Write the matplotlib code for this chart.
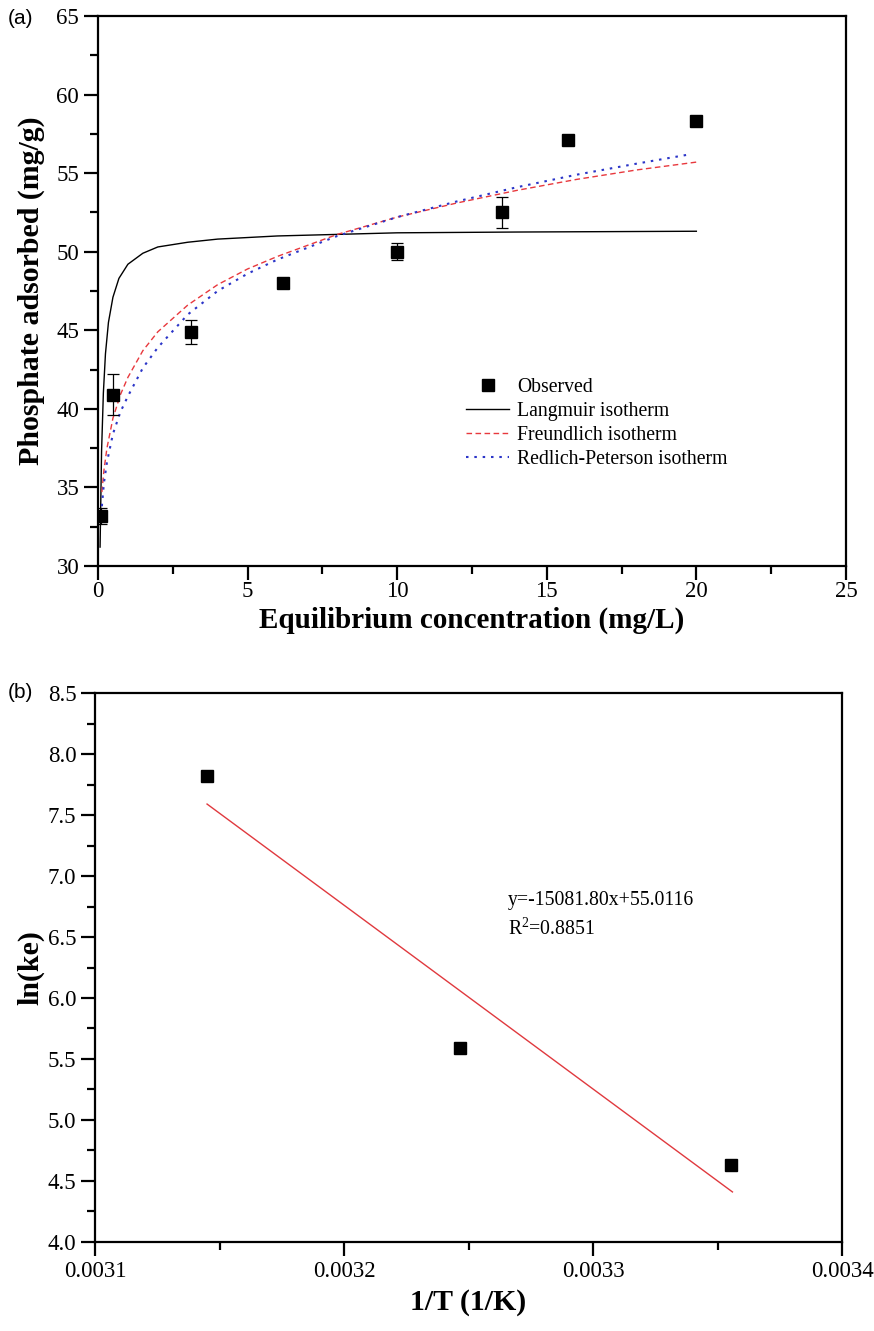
import matplotlib
matplotlib.use("Agg")
import matplotlib.pyplot as plt
from matplotlib.ticker import MultipleLocator, FormatStrFormatter
from matplotlib.lines import Line2D

# ---------------- data: panel (a) ----------------
obs_x = [0.1, 0.5, 3.1, 6.2, 10.0, 13.5, 15.7, 20.0]
obs_y = [33.2, 40.9, 44.9, 48.0, 50.0, 52.5, 57.1, 58.3]
obs_err = [0.5, 1.3, 0.75, 0.2, 0.55, 1.0, 0.2, 0.3]

lang_x = [0.07, 0.12, 0.18, 0.25, 0.35, 0.5, 0.7, 1.0, 1.5, 2.0, 3.0, 4.0, 6.0, 8.0, 10.0, 14.0, 20.0]
lang_y = [31.2, 37.3, 41.0, 43.5, 45.5, 47.1, 48.3, 49.2, 49.9, 50.3, 50.6, 50.8, 51.0, 51.1, 51.2, 51.25, 51.3]

freu_x = [0.13, 0.2, 0.3, 0.5, 0.75, 1.0, 1.5, 2.0, 3.0, 4.0, 5.0, 6.0, 8.0, 10.0, 12.0, 14.0, 16.0, 18.0, 20.0]
freu_y = [34.7, 36.1, 37.5, 39.4, 40.9, 42.0, 43.7, 44.9, 46.6, 47.9, 48.9, 49.7, 51.1, 52.2, 53.1, 53.9, 54.6, 55.2, 55.7]

rp_x = [0.13, 0.2, 0.3, 0.5, 0.75, 1.0, 1.5, 2.0, 3.0, 4.0, 5.0, 6.0, 8.0, 10.0, 12.0, 14.0, 16.0, 18.0, 19.8]
rp_y = [33.8, 35.3, 36.6, 38.4, 39.8, 40.8, 42.6, 43.9, 46.0, 47.5, 48.6, 49.5, 51.0, 52.2, 53.2, 54.1, 54.9, 55.6, 56.2]

legend_labels = ["Observed", "Langmuir isotherm", "Freundlich isotherm", "Redlich-Peterson isotherm"]

# ---------------- data: panel (b) ----------------
invT = [0.0031448, 0.0032466, 0.0033553]
lnke = [7.82, 5.59, 4.63]
fit_x = [0.003145, 0.003356]
fit_y = [7.59, 4.41]
fit_text = "y=-15081.80x+55.0116\nR$^2$=0.8851"

SERIF = ["Liberation Serif", "DejaVu Serif"]
SANS = ["Liberation Sans", "DejaVu Sans"]
plt.rcParams["font.family"] = SERIF
plt.rcParams["mathtext.fontset"] = "custom"
plt.rcParams["mathtext.rm"] = "Liberation Serif"

fig = plt.figure(figsize=(8.74, 13.31), dpi=100)
ax1 = fig.add_axes([0.1121, 0.5748, 0.8558, 0.4132])
ax2 = fig.add_axes([0.1087, 0.0669, 0.8547, 0.4124])

def style(ax):
    for s in ax.spines.values():
        s.set_linewidth(1.6)
    ax.tick_params(which="both", direction="out", top=False, right=False,
                   labelsize=16.5, width=1.6)
    ax.tick_params(which="major", length=10)
    ax.tick_params(which="minor", length=6)

# panel (a)
l_lang, = ax1.plot(lang_x, lang_y, color="black", lw=1.0)
l_freu, = ax1.plot(freu_x, freu_y, color="#e8383d", lw=1.0, ls=(0, (4, 2.5)))
l_rp, = ax1.plot(rp_x, rp_y, color="#2b35c8", lw=1.5, ls=(0, (1.2, 2.8)))
ax1.errorbar(obs_x, obs_y, yerr=obs_err, fmt="s", color="black", ms=9,
             ecolor="black", elinewidth=0.9, capsize=4.5, capthick=0.9, zorder=5)
ax1.set_xlim(0, 25)
ax1.set_ylim(30, 65)
ax1.xaxis.set_major_locator(MultipleLocator(5))
ax1.xaxis.set_minor_locator(MultipleLocator(2.5))
ax1.yaxis.set_major_locator(MultipleLocator(5))
ax1.yaxis.set_minor_locator(MultipleLocator(2.5))
style(ax1)
ax1.tick_params(axis="x", pad=1)
ax1.set_xlabel("Equilibrium concentration (mg/L)", fontsize=21, fontweight="bold", labelpad=3)
ax1.set_ylabel("Phosphate adsorbed (mg/g)", fontsize=21.5, fontweight="bold", labelpad=8)

obs_handle = Line2D([], [], marker="s", ls="none", color="black", ms=9)
ax1.legend([obs_handle, l_lang, l_freu, l_rp], legend_labels, loc="upper left",
           bbox_to_anchor=(0.492, 0.341), frameon=False, fontsize=14.2,
           handlelength=2.2, handletextpad=0.4, labelspacing=0.24, borderpad=0,
           borderaxespad=0)

fig.text(8 / 874, 1 - 18 / 1331, "(a)", fontsize=15, family=SANS, va="center", ha="left")

# panel (b)
ax2.plot(invT, lnke, "s", color="black", ms=9, zorder=5)
ax2.plot(fit_x, fit_y, color="#e0393e", lw=1.0)
ax2.set_xlim(0.0031, 0.0034)
ax2.set_ylim(4.0, 8.5)
ax2.xaxis.set_major_locator(MultipleLocator(0.0001))
ax2.xaxis.set_minor_locator(MultipleLocator(0.00005))
ax2.xaxis.set_major_formatter(FormatStrFormatter("%.4f"))
ax2.yaxis.set_major_locator(MultipleLocator(0.5))
ax2.yaxis.set_minor_locator(MultipleLocator(0.25))
ax2.yaxis.set_major_formatter(FormatStrFormatter("%.1f"))
style(ax2)
ax2.set_xlabel("1/T (1/K)", fontsize=21.5, fontweight="bold", labelpad=5)
ax2.set_ylabel("ln(ke)", fontsize=21.5, fontweight="bold", labelpad=2)
ax2.text(0.0032659, 6.68, fit_text, fontsize=14.2, va="center", ha="left", linespacing=1.45)

fig.text(8 / 874, 1 - 693 / 1331, "(b)", fontsize=15, family=SANS, va="center", ha="left")

fig.savefig("out.png", dpi=100)
